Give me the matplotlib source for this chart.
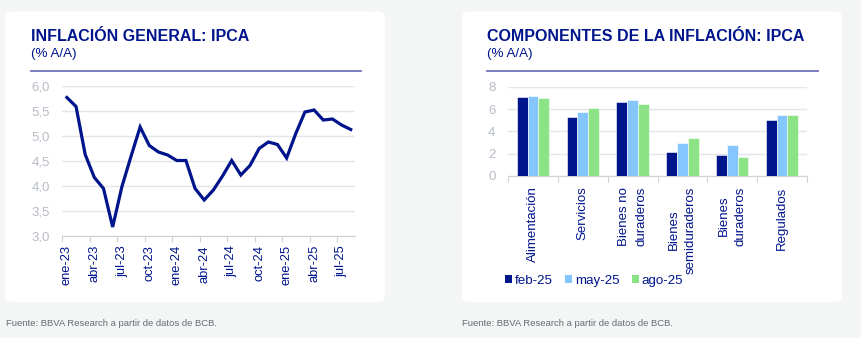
import matplotlib
matplotlib.use("Agg")
import matplotlib.pyplot as plt
import numpy as np
from matplotlib.patches import FancyBboxPatch, Patch
from matplotlib.lines import Line2D

plt.rcParams['font.family'] = ['Liberation Sans', 'DejaVu Sans']

# data - left chart (monthly CPI, % y/y)
months = ["ene-23", "feb-23", "mar-23", "abr-23", "may-23", "jun-23", "jul-23", "ago-23",
          "sep-23", "oct-23", "nov-23", "dic-23", "ene-24", "feb-24", "mar-24", "abr-24",
          "may-24", "jun-24", "jul-24", "ago-24", "sep-24", "oct-24", "nov-24", "dic-24",
          "ene-25", "feb-25", "mar-25", "abr-25", "may-25", "jun-25", "jul-25", "ago-25"]
ipca = [5.77, 5.59, 4.63, 4.17, 3.95, 3.18, 3.98, 4.59, 5.18, 4.81, 4.68, 4.62,
        4.51, 4.51, 3.95, 3.72, 3.92, 4.20, 4.51, 4.22, 4.41, 4.75, 4.88, 4.83,
        4.56, 5.05, 5.48, 5.52, 5.32, 5.34, 5.22, 5.13]

# data - right chart (components)
components = ["Alimentación", "Servicios", "Bienes no\nduraderos", "Bienes\nsemiduraderos",
              "Bienes\nduraderos", "Regulados"]
series_names = ["feb-25", "may-25", "ago-25"]
feb25 = [7.07, 5.28, 6.60, 2.12, 1.88, 5.01]
may25 = [7.16, 5.73, 6.80, 2.95, 2.78, 5.46]
ago25 = [7.01, 6.09, 6.45, 3.40, 1.73, 5.46]

NAVY = "#00148c"
LBLUE = "#86c6ff"
GREEN = "#8be385"
GRAY_TXT = "#b7bcc5"
GRID = "#e2e5ea"
BG = "#f4f6f5"

W, H = 861, 338
fig = plt.figure(figsize=(W / 100, H / 100), dpi=100)
fig.patch.set_facecolor(BG)


def px_axes(x0, y_top, x1, y_bot):
    return fig.add_axes([x0 / W, 1 - y_bot / H, (x1 - x0) / W, (y_bot - y_top) / H])


def fx(x):
    return x / W


def fy(y):
    return 1 - y / H


# white cards
for x0, x1 in [(5, 385), (462, 842)]:
    card = FancyBboxPatch((fx(x0), fy(302)), fx(x1 - x0), (302 - 11.5) / H,
                          boxstyle="round,pad=0,rounding_size=0.014",
                          transform=fig.transFigure, facecolor="white",
                          edgecolor="none", zorder=-5)
    fig.patches.append(card)

# titles and separator lines
for x0, x1, title in [(31, 361, "INFLACIÓN GENERAL: IPCA"),
                      (487, 818, "COMPONENTES DE LA INFLACIÓN: IPCA")]:
    fig.text(fx(x0), fy(41), title, fontsize=11.5, fontweight="bold",
             color=NAVY, va="baseline", ha="left")
    fig.text(fx(x0), fy(56.5), "(% A/A)", fontsize=9.6, color=NAVY,
             va="baseline", ha="left")
    fig.add_artist(Line2D([fx(x0), fx(x1)], [fy(71.3), fy(71.3)],
                          transform=fig.transFigure, color="#6d74ba", lw=1.3))

# footnotes
for x0 in [6.5, 462]:
    fig.text(fx(x0), fy(324), "Fuente: BBVA Research a partir de datos de BCB.",
             fontsize=6.8, color="#666a74", va="center", ha="left")

# ---- left chart
ax1 = px_axes(62.3, 86, 355.3, 236)
x = np.arange(len(months))
ax1.plot(x, ipca, color=NAVY, lw=2.3, solid_joinstyle="miter", zorder=3)
ax1.set_xlim(-0.5, len(months) - 0.5)
ax1.set_ylim(3.0, 6.0)
ax1.set_yticks(np.arange(3.0, 6.01, 0.5))
ax1.set_yticklabels([f"{v:.1f}".replace(".", ",") for v in np.arange(3.0, 6.01, 0.5)])
ax1.set_xticks(x[::3])
ax1.set_xticklabels(months[::3], rotation=90)
ax1.set_xticks(x[::3] - 0.5, minor=True)
ax1.tick_params(axis="x", which="major", length=0, pad=6.5, labelsize=9.3, labelcolor=NAVY)
ax1.tick_params(axis="x", which="minor", length=4, color="#cdd1d8", width=0.8)
ax1.tick_params(axis="y", length=0, pad=9, labelsize=9.5, labelcolor=GRAY_TXT)
ax1.grid(axis="y", color=GRID, lw=1)
ax1.set_axisbelow(True)
for s in ["left", "right", "top"]:
    ax1.spines[s].set_visible(False)
ax1.spines["bottom"].set_color("#cdd1d8")
ax1.set_facecolor("none")

# ---- right chart
ax2 = px_axes(508, 86.7, 807, 176)
xc = np.arange(len(components))
bw = 0.217
for i, (vals, col) in enumerate(zip([feb25, may25, ago25], [NAVY, LBLUE, GREEN])):
    ax2.bar(xc + (i - 1) * bw, vals, width=bw, color=col, edgecolor="white",
            lw=0.4, zorder=3, label=series_names[i])
ax2.set_xlim(-0.5, len(components) - 0.5)
ax2.set_ylim(0, 8)
ax2.set_yticks([0, 2, 4, 6, 8])
ax2.set_xticks(xc)
ax2.set_xticklabels(components, rotation=90)
for lbl in ax2.get_xticklabels():
    lbl.set_multialignment("center")
    lbl.set_linespacing(1.6)
ax2.set_xticks(np.arange(len(components) + 1) - 0.5, minor=True)
ax2.tick_params(axis="x", which="major", length=0, pad=7.5, labelsize=9.5, labelcolor=NAVY)
ax2.tick_params(axis="x", which="minor", length=4.5, color="#cdd1d8", width=0.8)
ax2.tick_params(axis="y", length=0, pad=9, labelsize=9.5, labelcolor=GRAY_TXT)
ax2.grid(axis="y", color=GRID, lw=1)
ax2.set_axisbelow(True)
for s in ["left", "right", "top"]:
    ax2.spines[s].set_visible(False)
ax2.spines["bottom"].set_color("#cdd1d8")
ax2.set_facecolor("none")

handles = [Patch(facecolor=c, edgecolor="none") for c in [NAVY, LBLUE, GREEN]]
fig.legend(handles, series_names, loc="center left",
           bbox_to_anchor=(fx(505), fy(281)), ncol=3, frameon=False,
           fontsize=9.6, handlelength=0.55, handleheight=0.55,
           handletextpad=0.2, columnspacing=0.9, borderaxespad=0, borderpad=0,
           labelcolor=NAVY)

fig.savefig("out.png", dpi=100, facecolor=fig.get_facecolor())
